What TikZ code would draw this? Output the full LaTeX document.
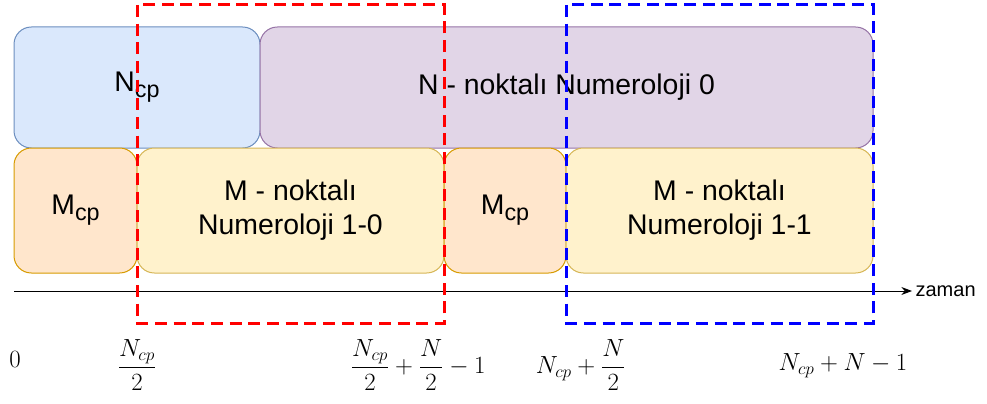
\RequirePackage{fix-cm}
\documentclass[tikz,border=0pt]{standalone}
\usepackage{amsmath}
\usepackage{fontspec}
\setmainfont{Liberation Sans}
\usepackage{tikz}
\usetikzlibrary{arrows.meta,positioning}
\definecolor{cpblue}{HTML}{DAE8FC}
\definecolor{cpbluedraw}{HTML}{6C8EBF}
\definecolor{numpurple}{HTML}{E1D5E7}
\definecolor{numpurpledraw}{HTML}{9673A6}
\definecolor{cporange}{HTML}{FFE6CC}
\definecolor{cporangedraw}{HTML}{D79B00}
\definecolor{numyellow}{HTML}{FFF2CC}
\definecolor{numyellowdraw}{HTML}{D6B656}
\newcommand{\subcp}{\raisebox{-0.22em}{\fontsize{17.5}{17.5}\selectfont cp}}

\begin{document}
\begin{tikzpicture}[
    x=0.75pt, y=-0.75pt,
    font=\fontsize{21.3}{25.5}\selectfont,
    >={Stealth[length=8pt,width=6pt]},
    block/.style={rounded corners=13pt, line width=0.75pt, align=center, inner sep=0pt, outer sep=0pt},
    toprow/.style={block, minimum height=90.75pt},
    lowrow/.style={block, minimum height=93.75pt},
    axis/.style={->, line width=0.75pt, draw=black},
    frame/.style={dashed, dash pattern=on 9pt off 5pt, line width=2.25pt},
    lbl/.style={font=\fontsize{18.6}{22}\selectfont}
]
\useasboundingbox (0,0) rectangle (987,403);

% upper row: Numeroloji 0
\node[toprow, fill=cpblue, draw=cpbluedraw, minimum width=184.5pt, anchor=north west] (ncp) at (14,27) {N\subcp};
\node[toprow, fill=numpurple, draw=numpurpledraw, minimum width=459.75pt, right=0pt of ncp] (num0) {N - noktalı Numeroloji 0};

% lower row: Numeroloji 1
\node[lowrow, fill=cporange, draw=cporangedraw, minimum width=92.25pt, anchor=north west] (mcpa) at (ncp.south west) {M\subcp};
\node[lowrow, fill=numyellow, draw=numyellowdraw, minimum width=230.25pt, right=0pt of mcpa] (num10) {M - noktalı\\Numeroloji 1-0};
\node[lowrow, fill=cporange, draw=cporangedraw, minimum width=91.5pt, right=0pt of num10] (mcpb) {M\subcp};
\node[lowrow, fill=numyellow, draw=numyellowdraw, minimum width=230.25pt, right=0pt of mcpb] (num11) {M - noktalı\\Numeroloji 1-1};

% time axis
\coordinate (tstart) at (14,291);
\coordinate (tend) at (912,291);
\draw[axis] (tstart) -- (tend);
\node[right=1.5pt of tend, font=\fontsize{15}{18}\selectfont, inner sep=1pt] (zaman) {zaman};

% windows
\draw[frame, draw=red] (num10.west |- 0,5) rectangle (num10.east |- 0,323);
\draw[frame, draw=blue] (num11.west |- 0,5) rectangle (num11.east |- 0,323);

% sample indices
\node[lbl] (idx0) at (15,360) {$0$};
\node[lbl] (idx1) at (137,365) {$\dfrac{N_{cp}}{2}$};
\node[lbl] (idx2) at (418,365) {$\dfrac{N_{cp}}{2}+\dfrac{N}{2}-1$};
\node[lbl] (idx3) at (581,365) {$N_{cp}+\dfrac{N}{2}$};
\node[lbl] (idx4) at (843,366) {$N_{cp}+N-1$};
\end{tikzpicture}
\end{document}
